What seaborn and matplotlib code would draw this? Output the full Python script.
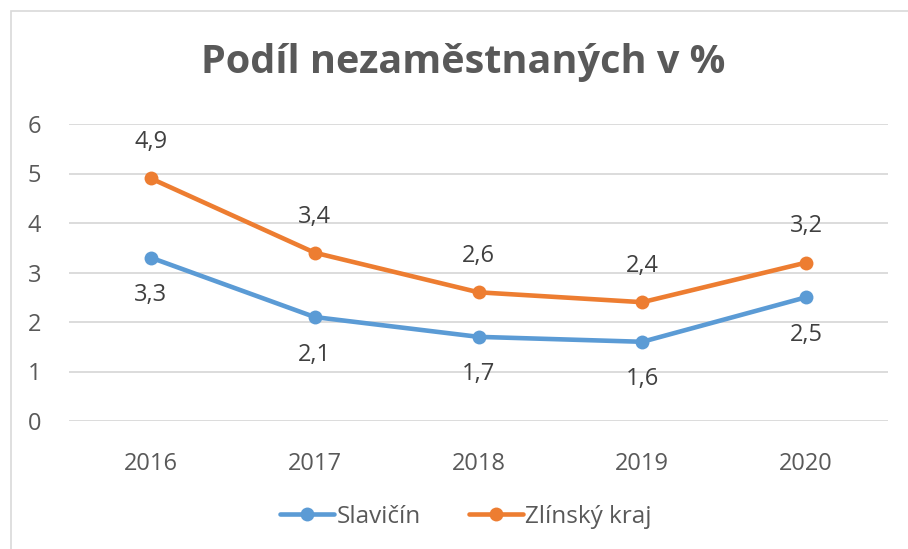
import matplotlib
matplotlib.use("Agg")
import matplotlib.pyplot as plt
import seaborn as sns
import pandas as pd
from matplotlib.patches import Rectangle

years = ["2016", "2017", "2018", "2019", "2020"]
slavicin = [3.3, 2.1, 1.7, 1.6, 2.5]
zlinsky = [4.9, 3.4, 2.6, 2.4, 3.2]
series_names = ["Slavičín", "Zlínský kraj"]
title = "Podíl nezaměstnaných v %"
yticks = [0, 1, 2, 3, 4, 5, 6]

sns.set_theme(style="white")
plt.rcParams['font.family'] = ['Open Sans', 'DejaVu Sans']

gray = "#595959"
colors = {"Slavičín": "#5B9BD5", "Zlínský kraj": "#ED7D31"}

pos = list(range(len(years)))
df = pd.DataFrame({
    "pos": pos * 2,
    "value": slavicin + zlinsky,
    "series": [series_names[0]] * len(years) + [series_names[1]] * len(years),
})

fig = plt.figure(figsize=(9.08, 5.49), dpi=100)
ax = fig.add_axes([69/908, 1-421/549, (888-69)/908, (421-124)/549])

fig.patches.append(Rectangle((11/908, -0.2), 1.2, 1.2 - 11/549, transform=fig.transFigure,
                             fill=False, edgecolor="#D9D9D9", linewidth=1.2))

sns.lineplot(data=df, x="pos", y="value", hue="series", palette=colors, marker="o",
             markersize=10, linewidth=3.3, markeredgewidth=0, ax=ax, legend=True)

ax.set_xlim(-0.5, len(years) - 0.5)
ax.set_ylim(0, 6)
ax.set_xticks(pos)
ax.set_xticklabels(years)
ax.set_yticks(yticks)
ax.set_yticklabels([str(t) for t in yticks])
ax.set_xlabel("")
ax.set_ylabel("")
ax.grid(axis="y", color="#D9D9D9", linewidth=1.3)
ax.set_axisbelow(True)
for s in ax.spines.values():
    s.set_visible(False)
ax.tick_params(axis="both", length=0, labelsize=17, labelcolor=gray)
ax.tick_params(axis="x", pad=22)
ax.tick_params(axis="y", pad=20)

for i, v in enumerate(slavicin):
    ax.annotate(f"{v:.1f}".replace(".", ","), (i, v), xytext=(0, -27), textcoords="offset points",
                ha="center", va="center", fontsize=17, color="#404040")
for i, v in enumerate(zlinsky):
    ax.annotate(f"{v:.1f}".replace(".", ","), (i, v), xytext=(0, 26), textcoords="offset points",
                ha="center", va="center", fontsize=17, color="#404040")

fig.text(463/908, 1-63/549, title, ha="center", va="center", fontsize=28.5,
         fontweight="bold", color=gray)

h, l = ax.get_legend_handles_labels()
ax.legend(h, l, loc="center", bbox_to_anchor=(466/908, 1-517/549), bbox_transform=fig.transFigure,
          ncol=2, frameon=False, fontsize=17.5, labelcolor=gray, handlelength=2.2,
          handletextpad=0.1, columnspacing=2.0)

fig.savefig("out.png", dpi=100)
